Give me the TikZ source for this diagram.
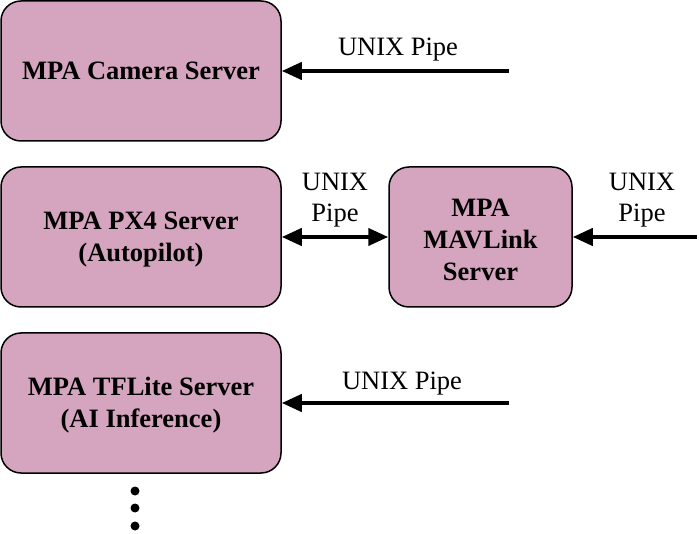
\documentclass[tikz,border=0pt]{standalone}
\usepackage{fontspec}
\setmainfont{Liberation Serif}
\usetikzlibrary{arrows.meta}

\definecolor{mpapink}{HTML}{D5A4BE}

\tikzset{
  server/.style={draw=black, fill=mpapink, line width=1.5pt, rounded corners=20pt,
    minimum width=280pt, minimum height=140pt, align=center,
    font=\fontsize{26.5}{32}\selectfont\bfseries},
  pipe/.style={line width=4pt, -{Triangle[length=20pt,width=17pt]}},
  twopipe/.style={line width=4pt, {Triangle[length=20pt,width=17pt]}-{Triangle[length=20pt,width=17pt]}},
  pipelabel/.style={align=center, inner sep=0pt, font=\fontsize{26.5}{31}\selectfont}
}

\begin{document}
\begin{tikzpicture}[x=1pt, y=-1pt]
    \useasboundingbox (0,0) rectangle (699,534);

    % the servers
    \node[server] (Camera) at (141,71) {MPA Camera Server};
    \node[server] (PX4) at (141,237) {\strut MPA PX4 Server\\(Autopilot)};
    \node[server] (TFLite) at (141,403) {\strut MPA TFLite Server\\(AI Inference)};
    \node[server, minimum width=183pt] (MAVLink) at (480.5,237) {\strut MPA\\MAVLink\\Server};

    % free ends of the pipes
    \coordinate (CamPipe) at (509,71);
    \coordinate (MavPipe) at (697,237);
    \coordinate (TFPipe)  at (509,403);

    \draw [pipe] (CamPipe) -- (Camera.east);
    \draw [twopipe] (PX4.east) -- (MAVLink.west);
    \draw [pipe] (MavPipe) -- (MAVLink.east);
    \draw [pipe] (TFPipe) -- (TFLite.east);

    \node[pipelabel] (CamLabel) at (398,50) {UNIX Pipe};
    \node[pipelabel] (PXLabel) at (335,200) {UNIX\\Pipe};
    \node[pipelabel] (MavLabel) at (642,200) {UNIX\\Pipe};
    \node[pipelabel] (TFLabel) at (402,384) {UNIX Pipe};

    % more servers below
    \foreach \y in {491,508,526}{
      \fill (135,\y) circle (4.5);
    }
\end{tikzpicture}
\end{document}
